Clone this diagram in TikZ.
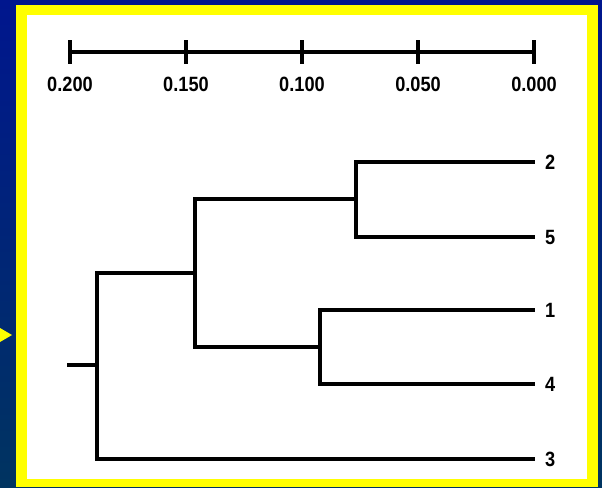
\documentclass[tikz,border=0pt]{standalone}
\usepackage{fontspec}
\setmainfont{Liberation Sans}
\definecolor{bgtop}{RGB}{0,22,142}
\definecolor{bgbot}{RGB}{0,52,96}
\definecolor{frameyel}{RGB}{255,255,0}
\begin{document}
\begin{tikzpicture}[x=0.75pt,y=-0.75pt,
  branch/.style={line width=2.4pt,line cap=rect},
  tick/.style={line width=2.4pt},
  lab/.style={font=\fontsize{15.5}{17}\selectfont\bfseries,inner sep=0pt,xscale=0.88},
  leaf/.style={inner sep=0pt,minimum size=0pt},
  leaflab/.style={lab,anchor=west}]
\useasboundingbox (0,0) rectangle (602,487);
% background
\shade[top color=bgtop,bottom color=bgbot] (0,0) rectangle (602,487);
% yellow frame and white panel
\fill[frameyel] (16,5) rectangle (598,487);
\fill[white] (27,15) rectangle (587,479);
% pointer triangle
\fill[frameyel] (0,328) -- (12,335) -- (0,342) -- cycle;
% scale axis
\coordinate (a0) at (70,52);
\coordinate (a1) at (186,52);
\coordinate (a2) at (302,52);
\coordinate (a3) at (418,52);
\coordinate (a4) at (534,52);
\draw[tick] (a0) -- (a4);
\foreach \p/\t in {a0/0.200,a1/0.150,a2/0.100,a3/0.050,a4/0.000}{
  \draw[tick] ([yshift=9pt]\p) -- ([yshift=-9pt]\p);
  \node[lab] at ([yshift=-24pt]\p) {\t};
}
% leaves
\node[leaf] (l2) at (534,162) {};
\node[leaf] (l5) at (534,237) {};
\node[leaf] (l1) at (534,310) {};
\node[leaf] (l4) at (534,384) {};
\node[leaf] (l3) at (534,459) {};
\node[leaflab] at (545,162) {2};
\node[leaflab] at (545,237) {5};
\node[leaflab] at (545,310) {1};
\node[leaflab] at (545,384) {4};
\node[leaflab] at (545,459) {3};
% internal nodes
\coordinate (n25) at (356,199);
\coordinate (n14) at (320,347);
\coordinate (n2514) at (195,273);
\coordinate (root) at (97,365);
\coordinate (stub) at (69,365);
% connectors
\draw[branch] (l2) -| (n25) |- (l5);
\draw[branch] (l1) -| (n14) |- (l4);
\draw[branch] (n25) -| (n2514) |- (n14);
\draw[branch] (n2514) -| (root) |- (l3);
\draw[branch] (stub) -- (root);
\end{tikzpicture}
\end{document}
